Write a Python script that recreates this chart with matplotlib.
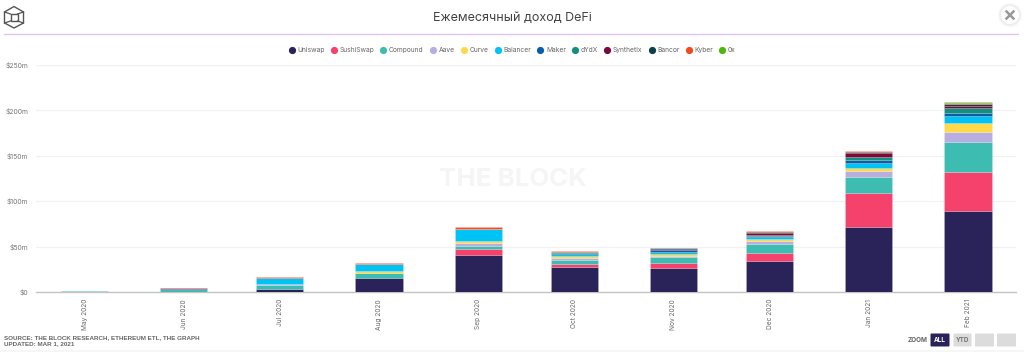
import datetime as dt
import numpy as np
import matplotlib
matplotlib.use('Agg')
import matplotlib.pyplot as plt
import matplotlib.dates as mdates
from matplotlib.lines import Line2D
from matplotlib.patches import Circle, FancyBboxPatch, Polygon, Rectangle

plt.rcParams['font.family'] = ['Inter', 'DejaVu Sans']

months = ['2020-05-01', '2020-06-01', '2020-07-01', '2020-08-01', '2020-09-01',
          '2020-10-01', '2020-11-01', '2020-12-01', '2021-01-01', '2021-02-01']
month_labels = ['May 2020', 'Jun 2020', 'Jul 2020', 'Aug 2020', 'Sep 2020',
                'Oct 2020', 'Nov 2020', 'Dec 2020', 'Jan 2021', 'Feb 2021']
y_ticks = [0, 50, 100, 150, 200, 250]
y_labels = ['$0', '$50m', '$100m', '$150m', '$200m', '$250m']

# values in $m
uniswap = [0, 0, 3.3, 15.7, 41, 28, 26.5, 34.5, 72, 89]
sushiswap = [0, 0, 0, 0, 6, 3, 5.5, 8.5, 37.4, 43.5]
compound = [1.2, 3.4, 4.7, 4.8, 3.5, 4.5, 6, 10, 17.6, 32.5]
aave = [0, 0.2, 0.3, 0.6, 3, 1.5, 2, 3.5, 6, 11.5]
curve = [0, 0.1, 0.7, 2.4, 2.5, 2.6, 1.8, 1.5, 4, 9.5]
balancer = [0, 0.1, 6, 7, 13.5, 2.8, 2.2, 2.5, 5.4, 7.5]
maker = [0, 0, 0, 0.1, 0.1, 1, 2, 1.5, 2.6, 4]
dydx = [0, 0, 0, 0, 0.1, 0.6, 0.5, 1, 3.3, 4.8]
synthetix = [0, 0.2, 0.1, 0.1, 0.1, 0.3, 1, 2, 4.4, 2.7]
bancor = [0, 0, 0, 0.1, 0.1, 0.3, 0.7, 0.8, 1.3, 2]
kyber = [0, 0.5, 1, 1.2, 1.5, 1, 0.7, 1, 0.8, 1.3]
zerox = [0, 0, 0, 0, 0, 0.1, 0.1, 0.2, 0.2, 0.5]

names = ['Uniswap', 'SushiSwap', 'Compound', 'Aave', 'Curve', 'Balancer',
         'Maker', 'dYdX', 'Synthetix', 'Bancor', 'Kyber', '0x']
series = [uniswap, sushiswap, compound, aave, curve, balancer,
          maker, dydx, synthetix, bancor, kyber, zerox]
colors = ['#2a2359', '#f4426c', '#3dbdb1', '#b8afe0', '#ffd94a', '#00c3f5',
          '#0a5ea8', '#12907d', '#7a0a3c', '#0b3d4a', '#f4491b', '#4cb80f']

W, H = 1024, 352
fig = plt.figure(figsize=(W / 100, H / 100), dpi=100, facecolor='white')

# page furniture in pixel coordinates
bg = fig.add_axes([0, 0, 1, 1])
bg.set_xlim(0, W)
bg.set_ylim(H, 0)
bg.axis('off')
bg.add_patch(Rectangle((0, 350), W, 2, color='#f6f6f6', lw=0))
bg.plot([4, 1018], [33.5, 33.5], color='#dcc4f7', lw=1)
bg.text(512, 18, 'Ежемесячный доход DeFi', ha='center', va='center', fontsize=9, color='#444444')
bg.text(513, 180, 'THE BLOCK', ha='center', va='center', fontsize=18.6, fontweight='bold', color='#f5f5f5')
bg.text(4, 337.5, 'SOURCE: THE BLOCK RESEARCH, ETHEREUM ETL, THE GRAPH', va='center',
        fontsize=4.5, color='#666666', family='Liberation Sans', fontweight='bold')
bg.text(4, 344, 'UPDATED: MAR 1, 2021', va='center',
        fontsize=4.5, color='#666666', family='Liberation Sans', fontweight='bold')

# logo
hex_x = [14, 23.5, 23.5, 14, 4.5, 4.5]
hex_y = [6.5, 12, 23, 28, 23, 12]
bg.add_patch(Polygon(np.column_stack([hex_x, hex_y]), fill=False, ec='#555555', lw=1))
bg.add_patch(Rectangle((10.5, 14), 7, 7, fill=False, ec='#555555', lw=1))
for hx, hy, ix, iy in [(4.5, 12, 10.5, 14), (23.5, 12, 17.5, 14), (4.5, 23, 10.5, 21), (23.5, 23, 17.5, 21)]:
    bg.plot([hx, ix], [hy, iy], color='#555555', lw=0.9)

# close button
for r, c in [(12, '#f8f8f8'), (11, '#f2f2f2'), (10, '#ececec'), (9, 'white')]:
    bg.add_patch(Circle((1010, 15), r, color=c, lw=0))
bg.plot([1006.5, 1013.5], [11.5, 18.5], color='#999999', lw=1.8)
bg.plot([1006.5, 1013.5], [18.5, 11.5], color='#999999', lw=1.8)

# zoom buttons
bg.text(908, 340, 'ZOOM', va='center', fontsize=4.6, color='#666666', fontweight='bold')
buttons = [(930.5, 19, '#2a2359', 'ALL', 'white'), (953.5, 18, '#dcdcdc', 'YTD', '#777777'),
           (975, 19, '#dcdcdc', '', 'white'), (997, 19, '#dcdcdc', '', 'white')]
for bx, bw, bc, bt, tc in buttons:
    bg.add_patch(FancyBboxPatch((bx, 333.5), bw, 13, boxstyle='round,pad=0,rounding_size=1', fc=bc, ec='none'))
    bg.text(bx + bw / 2, 340, bt, ha='center', va='center', fontsize=4.6, color=tc, fontweight='bold')

# plot area: x 36-1016, y 65-292 px
ax = fig.add_axes([36 / W, 1 - 292 / H, 980 / W, 227 / H])
ax.patch.set_alpha(0)
dates = [dt.date.fromisoformat(m) for m in months]
x = mdates.date2num(dates)
bottom = np.zeros(len(x))
for name, vals, col in zip(names, series, colors):
    vals = np.array(vals)
    # zero height bars would still paint their edge over the stack
    keep = vals > 0
    ax.bar(x[keep], vals[keep], width=14.7, bottom=bottom[keep], color=col, label=name,
           edgecolor=(1, 1, 1, 0.25), linewidth=0.4, zorder=3)
    bottom = bottom + vals

ax.set_xlim(x[0] - 15.16, x[-1] + 15)
ax.set_ylim(0, 250)
ax.set_xticks(x)
ax.set_xticklabels(month_labels, rotation=90, ha='center', va='top', fontsize=4.7, color='#666666')
ax.set_yticks(y_ticks)
ax.set_yticklabels(y_labels, fontsize=4.9, color='#777777')
ax.tick_params(axis='both', length=0)
ax.tick_params(axis='x', pad=5)
ax.tick_params(axis='y', pad=5.5)
ax.grid(axis='y', color='#f1f1f1', lw=0.9, zorder=0)
for s in ['top', 'right', 'left']:
    ax.spines[s].set_visible(False)
ax.spines['bottom'].set_color('#c4c4c4')
ax.spines['bottom'].set_linewidth(1)
ax.spines['bottom'].set_zorder(2)

handles = [Line2D([], [], ls='', marker='o', ms=5.2, mfc=c, mec='none') for c in colors]
fig.legend(handles, names, loc='center', bbox_to_anchor=(512 / W, 1 - 50 / H), ncol=12, frameon=False,
           fontsize=4.8, labelcolor='#666666', handletextpad=0.35, columnspacing=0.88, handlelength=1.0)

fig.savefig('out.png', dpi=100)
